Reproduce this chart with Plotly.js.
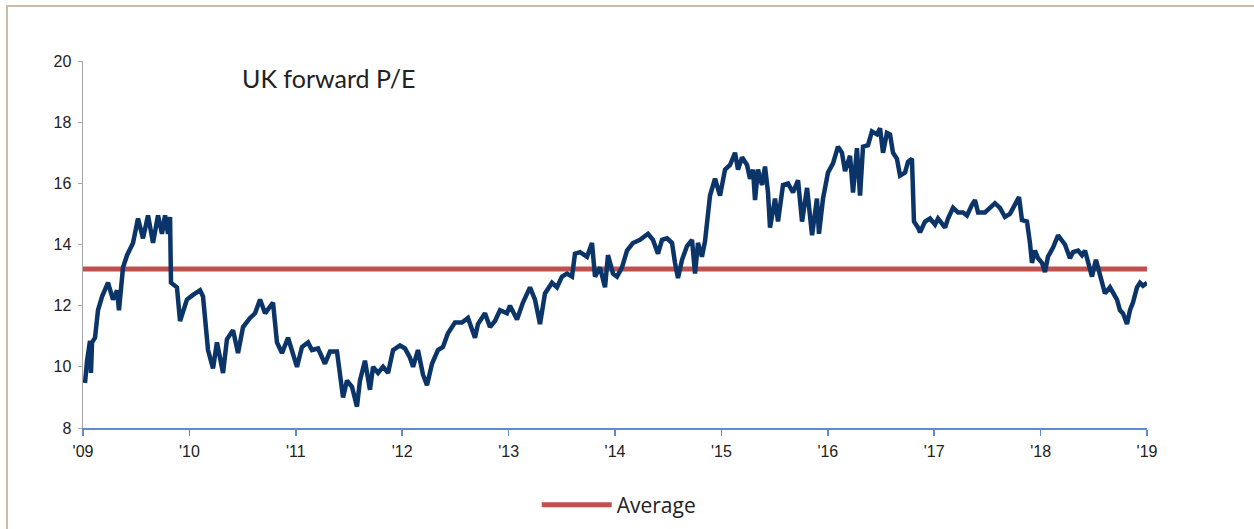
<!DOCTYPE html>
<html>
<head>
<meta charset="utf-8">
<script src="https://cdn.plot.ly/plotly-3.0.1.min.js"></script>
<style>
  html, body { margin: 0; padding: 0; background: #ffffff; }
  #wrap { position: relative; width: 1254px; height: 529px; overflow: hidden; }
  #chart { position: absolute; left: 0; top: 0; width: 1254px; height: 529px; }
  #frame { position: absolute; left: 6px; top: 5px; width: 1260px; height: 540px;
           border-top: 2px solid #c9bda8; border-left: 2px solid #c9bda8; pointer-events: none; }
</style>
</head>
<body>
<div id="wrap">
  <div id="chart"></div>
  <div id="frame"></div>
</div>
<script>
// Time in decimal years, forward P/E values
const years = [
  2009.019, 2009.038, 2009.066, 2009.075, 2009.085, 2009.113, 2009.141, 2009.179, 2009.235, 2009.282,
  2009.320, 2009.338, 2009.376, 2009.414, 2009.470, 2009.517, 2009.564, 2009.611, 2009.658, 2009.705,
  2009.742, 2009.771, 2009.799, 2009.818, 2009.827, 2009.883, 2009.912, 2009.977, 2010.034, 2010.100,
  2010.128, 2010.175, 2010.222, 2010.259, 2010.316, 2010.353, 2010.410, 2010.457, 2010.504, 2010.570,
  2010.617, 2010.664, 2010.711, 2010.758, 2010.786, 2010.823, 2010.870, 2010.927, 2010.974, 2011.011,
  2011.058, 2011.115, 2011.152, 2011.209, 2011.274, 2011.321, 2011.387, 2011.415, 2011.444, 2011.481,
  2011.528, 2011.575, 2011.603, 2011.650, 2011.697, 2011.726, 2011.773, 2011.820, 2011.867, 2011.914,
  2011.979, 2012.026, 2012.073, 2012.102, 2012.148, 2012.195, 2012.233, 2012.280, 2012.336, 2012.383,
  2012.430, 2012.496, 2012.562, 2012.618, 2012.684, 2012.712, 2012.778, 2012.825, 2012.872, 2012.919,
  2012.985, 2013.013, 2013.079, 2013.135, 2013.201, 2013.248, 2013.295, 2013.342, 2013.408, 2013.455,
  2013.502, 2013.549, 2013.596, 2013.624, 2013.671, 2013.737, 2013.784, 2013.812, 2013.859, 2013.906,
  2013.934, 2013.981, 2014.019, 2014.066, 2014.113, 2014.169, 2014.235, 2014.310, 2014.357, 2014.404,
  2014.442, 2014.489, 2014.536, 2014.564, 2014.592, 2014.630, 2014.677, 2014.724, 2014.752, 2014.780,
  2014.817, 2014.846, 2014.874, 2014.893, 2014.940, 2014.987, 2015.034, 2015.081, 2015.128, 2015.156,
  2015.194, 2015.241, 2015.269, 2015.297, 2015.316, 2015.344, 2015.382, 2015.410, 2015.438, 2015.457,
  2015.504, 2015.532, 2015.579, 2015.626, 2015.673, 2015.720, 2015.758, 2015.805, 2015.852, 2015.898,
  2015.917, 2015.955, 2016.002, 2016.049, 2016.096, 2016.133, 2016.162, 2016.209, 2016.237, 2016.274,
  2016.303, 2016.331, 2016.378, 2016.415, 2016.462, 2016.491, 2016.519, 2016.556, 2016.585, 2016.613,
  2016.650, 2016.679, 2016.726, 2016.754, 2016.791, 2016.810, 2016.848, 2016.867, 2016.914, 2016.961,
  2017.008, 2017.036, 2017.102, 2017.130, 2017.177, 2017.224, 2017.271, 2017.308, 2017.355, 2017.383,
  2017.412, 2017.477, 2017.524, 2017.571, 2017.618, 2017.665, 2017.712, 2017.759, 2017.797, 2017.825,
  2017.872, 2017.900, 2017.919, 2017.947, 2017.976, 2018.013, 2018.041, 2018.069, 2018.117, 2018.164,
  2018.201, 2018.229, 2018.276, 2018.305, 2018.352, 2018.389, 2018.417, 2018.445, 2018.483, 2018.520,
  2018.539, 2018.577, 2018.605, 2018.652, 2018.680, 2018.718, 2018.746, 2018.774, 2018.812, 2018.840,
  2018.868, 2018.906, 2018.934, 2018.962, 2019.000
];
const forwardPE = [
  9.47, 10.2, 10.85, 9.8, 10.8, 10.95, 11.85, 12.3, 12.75, 12.2,
  12.5, 11.85, 13.25, 13.65, 14.05, 14.85, 14.2, 14.95, 14.05, 14.95,
  14.35, 14.95, 14.35, 14.9, 12.75, 12.6, 11.5, 12.2, 12.35, 12.5,
  12.3, 10.55, 9.95, 10.8, 9.8, 10.9, 11.2, 10.45, 11.3, 11.6,
  11.75, 12.2, 11.75, 11.95, 12.1, 10.8, 10.45, 10.95, 10.45, 10.0,
  10.65, 10.8, 10.55, 10.6, 10.1, 10.5, 10.5, 9.65, 9.0, 9.55,
  9.35, 8.7, 9.55, 10.2, 9.25, 10.0, 9.8, 10.0, 9.8, 10.55,
  10.7, 10.6, 10.3, 10.0, 10.55, 9.75, 9.4, 10.1, 10.55, 10.65,
  11.1, 11.45, 11.45, 11.6, 10.95, 11.4, 11.75, 11.3, 11.5, 11.85,
  11.75, 12.0, 11.55, 12.1, 12.6, 12.2, 11.4, 12.4, 12.75, 12.6,
  12.95, 13.05, 12.95, 13.7, 13.75, 13.6, 14.05, 12.95, 13.25, 12.6,
  13.65, 13.05, 12.95, 13.25, 13.8, 14.05, 14.15, 14.35, 14.15, 13.7,
  14.15, 14.2, 14.05, 13.4, 12.9, 13.5, 13.95, 14.15, 13.05, 14.05,
  13.6, 14.1, 15.2, 15.6, 16.15, 15.6, 16.45, 16.6, 17.0, 16.45,
  16.85, 16.6, 16.15, 16.45, 15.45, 16.45, 15.95, 16.55, 15.7, 14.55,
  15.5, 14.75, 15.95, 16.0, 15.7, 16.1, 14.75, 15.85, 14.3, 15.5,
  14.35, 15.5, 16.35, 16.65, 17.2, 17.0, 16.4, 16.9, 15.7, 17.15,
  15.6, 17.2, 17.25, 17.7, 17.6, 17.8, 17.0, 17.65, 17.6, 17.0,
  16.8, 16.25, 16.35, 16.7, 16.8, 14.75, 14.55, 14.4, 14.75, 14.85,
  14.65, 14.85, 14.55, 14.85, 15.2, 15.05, 15.05, 14.95, 15.3, 15.45,
  15.05, 15.05, 15.2, 15.35, 15.2, 14.9, 15.0, 15.35, 15.55, 14.8,
  14.75, 14.05, 13.4, 13.8, 13.55, 13.4, 13.1, 13.6, 13.9, 14.3,
  14.1, 14.0, 13.55, 13.75, 13.8, 13.65, 13.8, 13.4, 12.95, 13.5,
  13.25, 12.75, 12.4, 12.6, 12.4, 12.2, 11.85, 11.75, 11.4, 11.85,
  12.1, 12.6, 12.75, 12.65, 12.75
];
const averageSpan = [2009, 2019];
const averageValue = [13.2, 13.2];
const tickYears = [2009, 2010, 2011, 2012, 2013, 2014, 2015, 2016, 2017, 2018, 2019];
const tickLabels = ["'09", "'10", "'11", "'12", "'13", "'14", "'15", "'16", "'17", "'18", "'19"];
const yTicks = [8, 10, 12, 14, 16, 18, 20];
const chartTitle = "UK forward P/E";

const traces = [
  {
    x: averageSpan, y: averageValue, mode: 'lines', name: 'Average',
    line: { color: '#c0504d', width: 5 }, showlegend: true, hoverinfo: 'skip'
  },
  {
    x: years, y: forwardPE, mode: 'lines', name: 'UK forward P/E',
    line: { color: '#0b3468', width: 4.5, shape: 'linear' }, showlegend: false
  }
];

const layout = {
  width: 1254, height: 529,
  margin: { l: 83, r: 107, t: 61, b: 101, autoexpand: false },
  paper_bgcolor: '#ffffff', plot_bgcolor: '#ffffff',
  font: { family: 'Liberation Sans, Arial, sans-serif', color: '#222222' },
  xaxis: {
    type: 'linear', range: [2009, 2019], tickvals: tickYears, ticktext: tickLabels,
    showgrid: false, zeroline: false, showline: true, linecolor: '#5b8bd0', linewidth: 2,
    ticks: 'outside', ticklen: 6, tickcolor: '#5b8bd0', tickwidth: 1.5, ticklabelstandoff: 2,
    tickfont: { size: 16, family: 'Liberation Sans, Arial, sans-serif', color: '#222222' },
    fixedrange: true, automargin: false
  },
  yaxis: {
    range: [8, 20], tickvals: yTicks, showgrid: false, zeroline: false,
    showline: true, linecolor: '#a6a6a6', linewidth: 1.5,
    ticks: 'outside', ticklen: 4, tickcolor: '#a6a6a6', ticklabelstandoff: 3,
    tickfont: { size: 16, family: 'Liberation Sans, Arial, sans-serif', color: '#222222' },
    fixedrange: true, automargin: false
  },
  showlegend: true,
  legend: {
    orientation: 'h', xref: 'container', yref: 'container',
    x: 0.428, xanchor: 'left', y: 0.045, yanchor: 'middle',
    itemwidth: 70,
    font: { size: 21, family: 'Open Sans, Lato, sans-serif', color: '#222222' },
    bgcolor: 'rgba(0,0,0,0)'
  },
  annotations: [{
    text: chartTitle, xref: 'paper', yref: 'paper', x: 0.148, y: 0.953,
    xanchor: 'left', yanchor: 'middle', showarrow: false,
    font: { size: 25, family: 'Lato, Open Sans, sans-serif', color: '#222222' }
  }]
};

Plotly.newPlot('chart', traces, layout, { displayModeBar: false, staticPlot: true });
</script>
</body>
</html>
